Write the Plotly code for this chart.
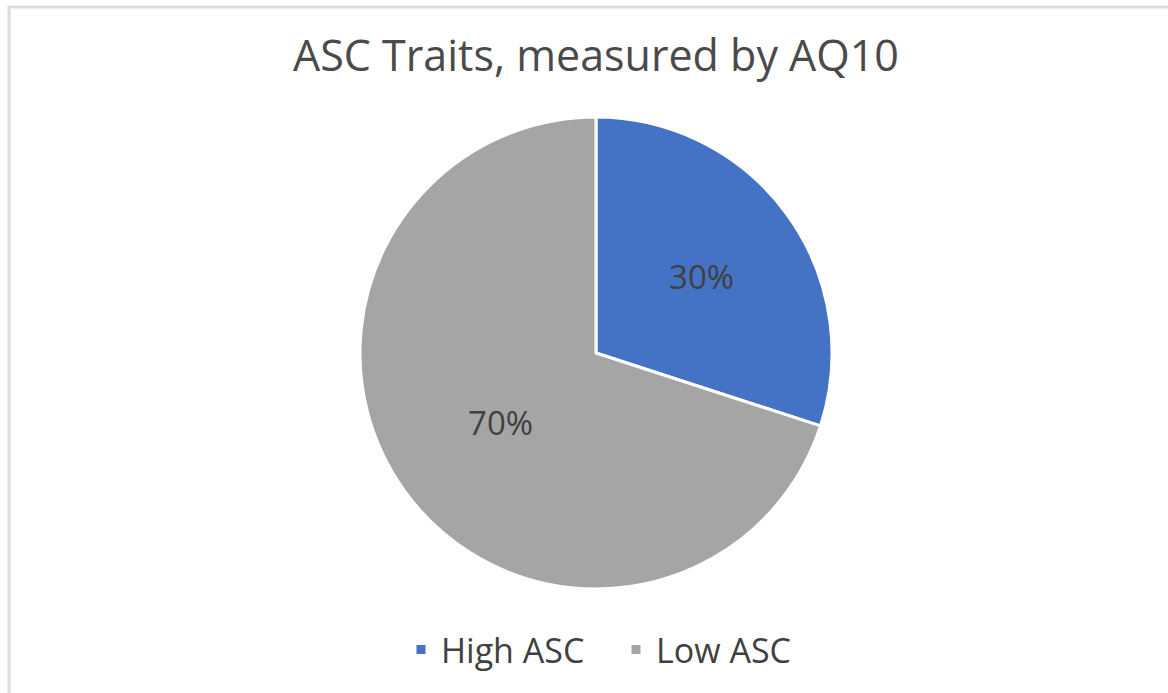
import plotly.graph_objects as go

labels = ["High ASC", "Low ASC"]
values = [30, 70]
colors = ["#4472C4", "#A5A5A5"]

W, H = 1168, 693
cx, cy, r = 596, 353, 236

fig = go.Figure(go.Pie(
    labels=labels, values=values, sort=False, direction="clockwise", rotation=0,
    marker=dict(colors=colors, line=dict(color="white", width=3)),
    textinfo="percent", textposition="inside", insidetextorientation="horizontal",
    textfont=dict(family="Open Sans", size=33, color="#404040"),
    domain=dict(x=[(cx - r) / W, (cx + r) / W], y=[1 - (cy + r) / H, 1 - (cy - r) / H]),
    hoverinfo="label+percent",
))

fig.update_layout(
    width=W, height=H, margin=dict(l=0, r=0, t=0, b=0),
    paper_bgcolor="white", plot_bgcolor="white",
    title=dict(text="ASC Traits, measured by AQ10", x=596 / W, xanchor="center",
               y=1 - 56 / H, yanchor="middle",
               font=dict(family="Open Sans", size=43, color="#4a4a4a")),
    showlegend=True,
    legend=dict(orientation="h", x=401 / W, xanchor="left", y=1 - 650 / H, yanchor="middle",
                font=dict(family="Open Sans", size=34, color="#404040"),
                itemwidth=30, entrywidth=170, entrywidthmode="pixels",
                traceorder="normal"),
    shapes=[dict(type="rect", xref="paper", yref="paper",
                 x0=9 / W, x1=1.05, y0=-0.05, y1=1 - 7 / H,
                 line=dict(color="#DDDDDD", width=3), fillcolor="rgba(0,0,0,0)")],
)

fig.write_html("out.html")
